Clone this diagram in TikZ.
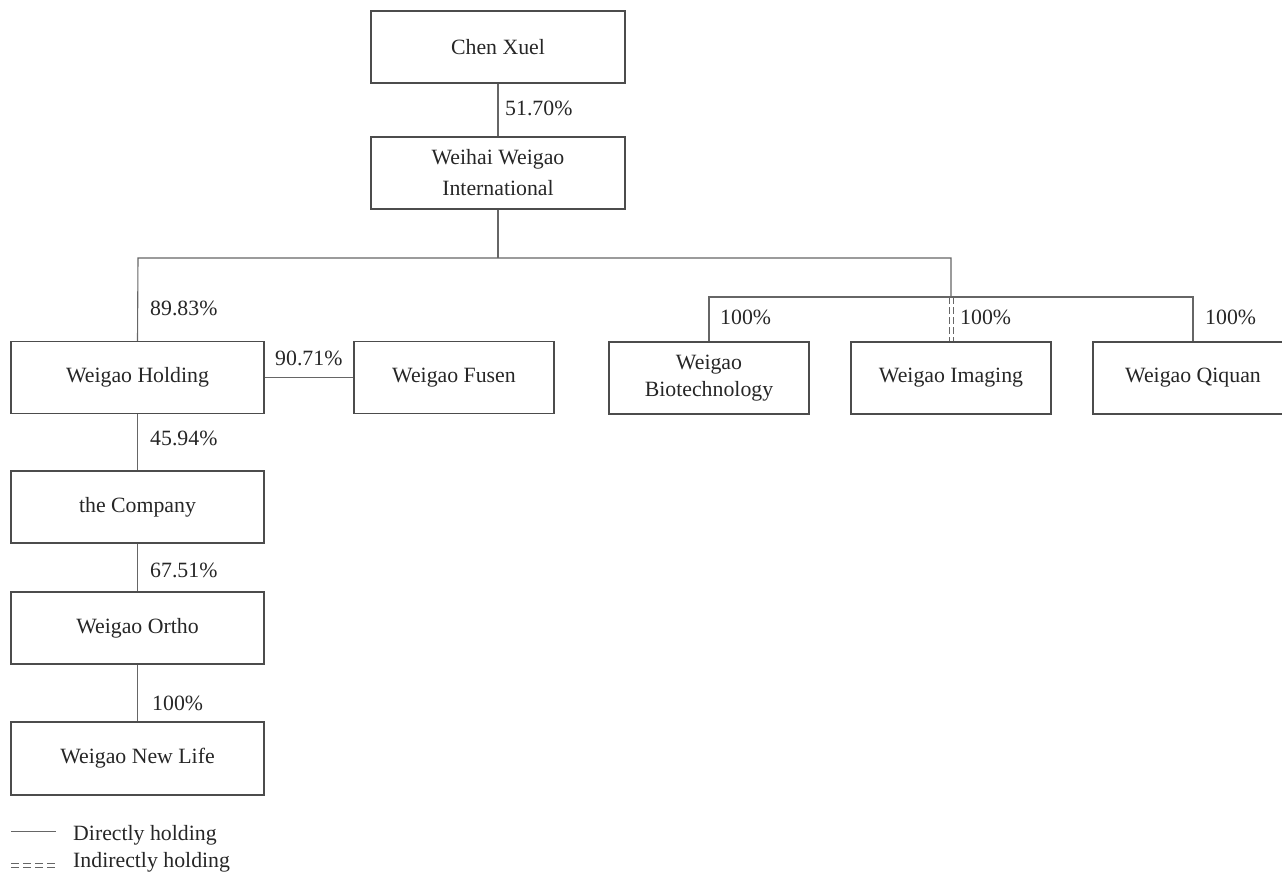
\documentclass[tikz,border=0pt]{standalone}
\usepackage{fontspec}
\setmainfont{Liberation Serif}
\begin{document}
\begin{tikzpicture}[x=1pt,y=-1pt,
  every node/.style={text=black!85},
  box/.style={draw=black!70,line width=1.1pt,minimum width=254pt,minimum height=72pt,inner sep=0pt,align=center,
    font=\fontsize{21.8}{27}\selectfont},
  sbox/.style={box,minimum width=200pt},
  pct/.style={anchor=west,inner sep=0pt,font=\fontsize{21.8}{26}\selectfont},
  conn/.style={draw=black!60,line width=1.1pt},
  dconn/.style={draw=black!60,line width=0.9pt,dash pattern=on 7pt off 3pt}]
\useasboundingbox (0,0) rectangle (1282,872);
% boxes
\node[box] (chen) at (498,47) {Chen Xuel};
\node[box,font=\fontsize{21.8}{31}\selectfont] (weihai) at (498,173) {Weihai Weigao\\International};
\node[box,minimum width=253pt] (holding) at (137.5,377.5) {Weigao Holding};
\node[sbox] (fusen) at (454,377.5) {Weigao Fusen};
\node[sbox] (biotech) at (709,378) {Weigao\\Biotechnology};
\node[sbox] (imaging) at (951,378) {Weigao Imaging};
\node[sbox] (qiquan) at (1193,378) {Weigao Qiquan};
\node[box,minimum width=253pt] (company) at (137.5,507) {the Company};
\node[box,minimum width=253pt] (ortho) at (137.5,628) {Weigao Ortho};
\node[box,minimum width=253pt,minimum height=73pt] (newlife) at (137.5,758.5) {Weigao New Life};
% bus coordinates
\coordinate (busL) at (138,258);
\coordinate (busR) at (951,258);
\coordinate (busM) at (951,297);
\coordinate (bus2L) at (709,297);
\coordinate (bus2R) at (1193,297);
% connectors
\draw[conn] (chen.south) -- (weihai.north);
\draw[conn] (weihai.south) -- (weihai.south |- busL);
\draw[conn] (holding.north) -- (busL) -- (busR) -- (busM);
\draw[conn] (biotech.north) -- (bus2L) -- (bus2R) -- (qiquan.north);
\draw[dconn] ([xshift=-2pt]busM) -- ([xshift=-2pt]imaging.north);
\draw[dconn] ([xshift=2pt]busM) -- ([xshift=2pt]imaging.north);
\draw[conn] (holding.east) -- (fusen.west);
\draw[conn] (holding.south) -- (company.north);
\draw[conn] (company.south) -- (ortho.north);
\draw[conn] (ortho.south) -- (newlife.north);
% percentages
\node[pct] (p1) at (505,108) {51.70\%};
\node[pct] (p2) at (150,308) {89.83\%};
\node[pct] (p3) at (275,358) {90.71\%};
\node[pct] (p4) at (720,317) {100\%};
\node[pct] (p5) at (960,317) {100\%};
\node[pct] (p6) at (1205,317) {100\%};
\node[pct] (p7) at (150,438) {45.94\%};
\node[pct] (p8) at (150,570) {67.51\%};
\node[pct] (p9) at (152,703) {100\%};
% legend
\coordinate (l1a) at (11,831);
\coordinate (l1b) at (56,831);
\draw[conn,line width=0.9pt] (l1a) -- (l1b);
\coordinate (l2a) at (11,863);
\coordinate (l2b) at (57,863);
\coordinate (l3a) at (11,867);
\coordinate (l3b) at (57,867);
\draw[draw=black!60,line width=0.9pt,dash pattern=on 8pt off 4pt] (l2a) -- (l2b);
\draw[draw=black!60,line width=0.9pt,dash pattern=on 8pt off 4pt] (l3a) -- (l3b);
\node[pct] (lg1) at (73,835) {Directly holding};
\node[pct] (lg2) at (73,862) {Indirectly holding};
\end{tikzpicture}
\end{document}
